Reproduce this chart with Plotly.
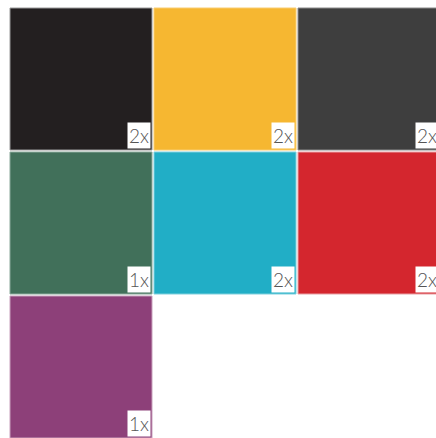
import plotly.graph_objects as go

# swatches, in reading order (3 per row)
colors = ["#231f20", "#f6b731", "#3e3e3e", "#41705a", "#21aec6", "#d4262e", "#8d4079"]
edge_colors = ["#9a9a9a", "#f8cc70", "#8a8a8a", "#8aa89a", "#7fd0dd", "#e8a0a4", "#c8a0bd"]
counts = [2, 2, 2, 1, 2, 2, 1]
n_cols = 3

cols = [i % n_cols for i in range(len(colors))]
rows = [i // n_cols for i in range(len(colors))]
labels = [f"{n}x" for n in counts]

fig = go.Figure()
fig.add_trace(go.Scatter(
    x=cols, y=rows,
    mode="markers",
    marker=dict(symbol="square", size=142, color=colors,
                line=dict(color=edge_colors, width=1)),
    cliponaxis=True,
    hoverinfo="skip",
))

# count badge in the bottom-right corner of each swatch
for c, r, txt in zip(cols, rows, labels):
    fig.add_annotation(
        x=c, y=r, xref="x", yref="y",
        text=txt, showarrow=False,
        xanchor="right", yanchor="bottom", xshift=70, yshift=-70,
        bgcolor="white", borderpad=1,
        font=dict(family="Lato, sans-serif", size=19, color="#555555", weight=300),
    )

fig.update_layout(
    width=436, height=438,
    margin=dict(l=0, r=0, t=0, b=0),
    paper_bgcolor="white", plot_bgcolor="white",
    showlegend=False,
    xaxis=dict(range=[-81 / 144, -81 / 144 + 436 / 144], visible=False, fixedrange=True),
    yaxis=dict(range=[-79 / 144 + 438 / 144, -79 / 144], visible=False, fixedrange=True),
)

# drop the default page margin so the figure sits at the window's corner
fig.write_html("out.html", config={"displayModeBar": False},
               post_script="document.body.style.margin='0';")
